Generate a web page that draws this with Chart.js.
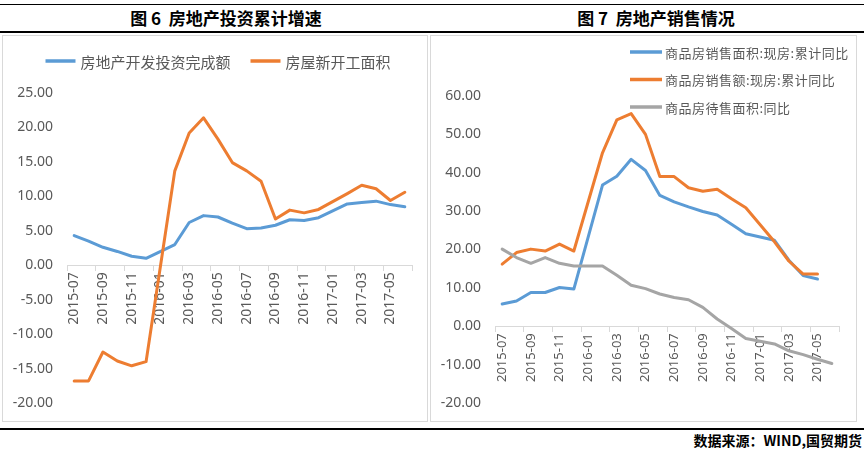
<!DOCTYPE html>
<html><head><meta charset="utf-8">
<script src="https://cdn.jsdelivr.net/npm/chart.js@4"></script>
<style>
body{margin:0;background:#fff;width:864px;height:452px;position:relative;overflow:hidden;font-family:"Noto Sans CJK SC","Noto Sans",sans-serif;}
.hline{position:absolute;left:0;width:864px;background:#000;}
.title{position:absolute;top:8px;font-weight:700;font-size:17px;line-height:20px;color:#000;white-space:pre;transform:translateX(-50%);}
.box{position:absolute;top:35px;height:385px;border:1px solid #d9d9d9;}
canvas{display:block}
.footer{position:absolute;right:2px;top:430px;font-weight:700;font-size:14px;line-height:20px;color:#000;white-space:nowrap}
</style></head><body>
<div class="hline" style="top:4px;height:1px"></div>
<div class="hline" style="top:31px;height:1.5px"></div>
<div class="title" style="left:226px">图 6  房地产投资累计增速</div>
<div class="title" style="left:656px">图 7  房地产销售情况</div>
<div class="box" style="left:2px;width:424px"><canvas id="c1" width="424" height="385"></canvas></div>
<div class="box" style="left:430px;width:425px"><canvas id="c2" width="425" height="385"></canvas></div>
<div class="hline" style="top:428px;height:2px"></div>
<div class="footer">数据来源：WIND,国贸期货</div>
<script>
// ---- data ----
const months = ['2015-07','2015-08','2015-09','2015-10','2015-11','2015-12','2016-01','2016-02','2016-03','2016-04','2016-05','2016-06','2016-07','2016-08','2016-09','2016-10','2016-11','2016-12','2017-01','2017-02','2017-03','2017-04','2017-05','2017-06'];
// Figure 6
const investmentLabel = '房地产开发投资完成额';
const investment = [4.3,3.5,2.6,2.0,1.3,1.0,null,3.0,6.2,7.2,7.0,6.1,5.3,5.4,5.8,6.6,6.5,6.9,null,8.9,9.1,9.3,8.8,8.5];
const newStartsLabel = '房屋新开工面积';
const newStarts = [-16.8,-16.8,-12.6,-13.9,-14.6,-14.0,null,13.7,19.2,21.4,18.3,14.9,13.7,12.2,6.7,8.0,7.6,8.1,null,10.4,11.6,11.1,9.4,10.6];
// Figure 7
const salesAreaLabel = '商品房销售面积:现房:累计同比';
const salesArea = [5.8,6.6,8.8,8.8,10.1,9.7,null,36.8,39.1,43.5,40.6,34.1,32.4,31.1,29.9,29.0,26.6,24.1,null,22.4,17.2,13.2,12.3,null];
const salesValueLabel = '商品房销售额:现房:累计同比';
const salesValue = [16.2,19.2,20.1,19.6,21.4,19.6,null,45.2,53.8,55.4,50.0,39.0,39.0,36.1,35.2,35.7,33.2,30.9,null,22.0,17.0,13.6,13.6,null];
const unsoldLabel = '商品房待售面积:同比';
const unsold = [20.1,17.9,16.4,17.9,16.4,15.7,null,15.7,13.3,10.7,9.8,8.4,7.5,6.9,4.9,1.9,-0.6,-3.2,null,-4.6,-6.4,-7.4,-8.6,-9.7];
const yTicks1 = {min:-20, max:25, step:5};
const yTicks2 = {min:-20, max:60, step:10};

// ---- styling ----
const BLUE='#5B9BD5', ORANGE='#ED7D31', GRAY='#A5A5A5', TXT='#595959', AXIS='#d9d9d9';
const FONT='"Noto Sans","Noto Sans CJK SC",sans-serif';

const lineLegend = {
  id:'lineLegend',
  afterDraw(chart, args, o){
    const ctx = chart.ctx;
    ctx.save();
    ctx.font = o.font;
    if (o.letterSpacing) ctx.letterSpacing = o.letterSpacing;
    ctx.textBaseline = 'middle';
    ctx.textAlign = 'left';
    const items = chart.data.datasets.map(d => ({text:d.label, color:d.borderColor, w:ctx.measureText(d.label).width}));
    const drawItem = (it, x, y) => {
      ctx.strokeStyle = it.color; ctx.lineWidth = o.lineWidth; ctx.lineCap='butt';
      ctx.beginPath(); ctx.moveTo(x, y); ctx.lineTo(x + o.sample, y); ctx.stroke();
      ctx.fillStyle = o.color;
      ctx.fillText(it.text, x + o.sample + o.gap, y + 1);
    };
    if (o.layout === 'row') {
      const total = items.reduce((s,it)=> s + o.sample + o.gap + it.w, 0) + o.itemGap*(items.length-1);
      let x = o.center - total/2;
      items.forEach(it => { drawItem(it, x, o.y); x += o.sample + o.gap + it.w + o.itemGap; });
    } else {
      items.forEach((it,i) => drawItem(it, o.x, o.y + i*o.dy));
    }
    ctx.restore();
  }
};

function makeDataset(label, data, color, order){
  return {label, data, borderColor:color, backgroundColor:color, borderWidth:3, pointRadius:0, pointHoverRadius:0,
    tension:0, spanGaps:true, borderCapStyle:'round', borderJoinStyle:'round', order};
}

function makeChart(id, datasets, yt, xFontSize, pad, legendOpts){
  return new Chart(document.getElementById(id), {
    type:'line',
    data:{labels:months, datasets},
    plugins:[lineLegend],
    options:{
      responsive:false, animation:false, devicePixelRatio:1,
      layout:{padding:pad},
      plugins:{legend:{display:false}, tooltip:{enabled:false}, lineLegend:legendOpts},
      scales:{
        x:{
          type:'category', offset:true, position:{y:0},
          border:{display:true, color:AXIS, width:1},
          grid:{display:true, drawOnChartArea:false, drawTicks:true, tickLength:5, offset:true,
            tickColor: c => (c.type !== 'tick' || c.index % 2 === 0) ? AXIS : 'rgba(0,0,0,0)', tickWidth:1},
          ticks:{autoSkip:false, minRotation:90, maxRotation:90, padding:2, color:TXT,
            font:{family:FONT, size:xFontSize},
            callback:function(v,i){ return i % 2 === 0 ? this.getLabelForValue(v) : ''; }},
          afterFit(s){ s.paddingLeft = 0; s.paddingRight = 0; }
        },
        y:{
          min:yt.min, max:yt.max,
          grid:{display:false, drawTicks:false}, border:{display:false},
          ticks:{stepSize:yt.step, padding:14, color:TXT, font:{family:FONT, size:14}, callback:v => Number(v).toFixed(2)},
          afterFit(s){ s.width = 64; s.paddingTop = 0; s.paddingBottom = 0; }
        }
      }
    }
  });
}

makeChart('c1', [
  makeDataset(investmentLabel, investment, BLUE, 2),
  makeDataset(newStartsLabel, newStarts, ORANGE, 1)
], yTicks1, 14, {left:0, right:15, top:57, bottom:18},
  {layout:'row', center:215, y:25, sample:30, gap:5, itemGap:20, lineWidth:3.5, font:'15px "Noto Sans CJK SC","Noto Sans",sans-serif', color:TXT});

makeChart('c2', [
  makeDataset(salesAreaLabel, salesArea, BLUE, 3),
  makeDataset(salesValueLabel, salesValue, ORANGE, 2),
  makeDataset(unsoldLabel, unsold, GRAY, 1)
], yTicks2, 13, {left:0, right:17, top:60, bottom:18},
  {layout:'col', x:199, y:16, dy:27.5, sample:32, gap:3, lineWidth:3.5, letterSpacing:'0.5px', font:'13px "Noto Sans CJK SC","Noto Sans",sans-serif', color:TXT});
</script>
</body></html>
